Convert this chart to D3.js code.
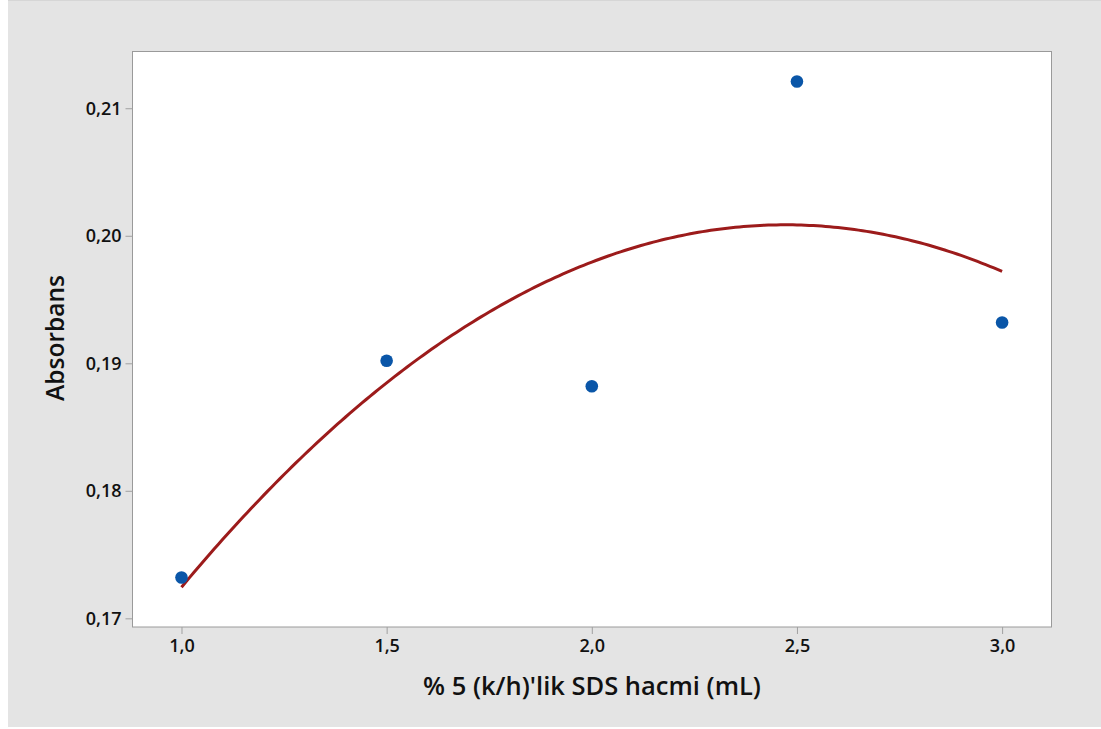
<!DOCTYPE html>
<html><head><meta charset="utf-8">
<script src="https://cdn.jsdelivr.net/npm/d3@7"></script>
<style>body{margin:0;background:#fff;}svg{display:block;}</style>
</head><body>
<svg id="c" width="1101" height="729"></svg>
<script>
const xValues = [1.0, 1.5, 2.0, 2.5, 3.0];
const yValues = [0.1732, 0.1902, 0.1882, 0.2121, 0.1932];
const xTicks = [1.0, 1.5, 2.0, 2.5, 3.0];
const yTicks = [0.17, 0.18, 0.19, 0.20, 0.21];
const xTitle = "% 5 (k/h)'lik SDS hacmi (mL)";
const yTitle = "Absorbans";

// quadratic least-squares fit of the data (fitted line plot)
function quadFit(xs, ys) {
  const n = xs.length;
  let S = [0,0,0,0,0], T = [0,0,0];
  for (let i = 0; i < n; i++) {
    for (let k = 0; k < 5; k++) S[k] += Math.pow(xs[i], k);
    for (let k = 0; k < 3; k++) T[k] += ys[i] * Math.pow(xs[i], k);
  }
  const A = [[S[0],S[1],S[2],T[0]],[S[1],S[2],S[3],T[1]],[S[2],S[3],S[4],T[2]]];
  for (let i = 0; i < 3; i++) {
    for (let j = i+1; j < 3; j++) {
      const f = A[j][i]/A[i][i];
      for (let k = i; k < 4; k++) A[j][k] -= f*A[i][k];
    }
  }
  const c = [0,0,0];
  for (let i = 2; i >= 0; i--) {
    let s = A[i][3];
    for (let k = i+1; k < 3; k++) s -= A[i][k]*c[k];
    c[i] = s/A[i][i];
  }
  return x => c[0] + c[1]*x + c[2]*x*x;
}
const fit = quadFit(xValues, yValues);

const svg = d3.select("#c");
const L = 132.5, R = 1051.5, T = 51.5, B = 627;
const FONT = "'Open Sans', 'Noto Sans', sans-serif";
svg.append("rect").attr("x",8).attr("y",0).attr("width",1093).attr("height",727).attr("fill","#e4e4e4");
svg.append("line").attr("x1",8).attr("x2",1101).attr("y1",0.5).attr("y2",0.5).attr("stroke","#d6d6d6");

const x = d3.scaleLinear().domain([0.8806, 3.1204]).range([L, R]);
const y = d3.scaleLinear().domain([0.16932, 0.21445]).range([B, T]);

svg.append("rect").attr("x",L).attr("y",T).attr("width",R-L).attr("height",B-T)
  .attr("fill","#fff").attr("stroke","#9a9a9a").attr("stroke-width",1);

const fmt = d => d3.format(".2f")(d).replace(".", ",");
const fmtx = d => d3.format(".1f")(d).replace(".", ",");

const yAxis = svg.append("g").attr("transform",`translate(${L},0)`)
  .call(d3.axisLeft(y).tickValues(yTicks).tickFormat(fmt).tickSize(7).tickPadding(4));
const xAxis = svg.append("g").attr("transform",`translate(0,${B})`)
  .call(d3.axisBottom(x).tickValues(xTicks).tickFormat(fmtx).tickSize(7).tickPadding(5));
[yAxis, xAxis].forEach(a => {
  a.select(".domain").remove();
  a.selectAll(".tick line").attr("stroke","#a0a0a0");
  a.selectAll(".tick text").attr("fill","#111").style("font-family",FONT)
    .style("font-size","18px").style("font-weight","600");
});

// fitted curve
const xs = d3.range(0, 201).map(i => 1 + i*0.01);
svg.append("path").datum(xs)
  .attr("d", d3.line().x(d => x(d)).y(d => y(fit(d))))
  .attr("fill","none").attr("stroke","#9c1b1b").attr("stroke-width",3);

svg.selectAll("circle.pt").data(xValues).enter().append("circle")
  .attr("cx", d => x(d)).attr("cy", (d,i) => y(yValues[i])).attr("r",6.3)
  .attr("fill","#0a56a8");

svg.append("text").attr("x",592).attr("y",695).attr("text-anchor","middle")
  .style("font-family",FONT).style("font-size","25.5px").style("font-weight","600")
  .attr("fill","#111").text(xTitle);
svg.append("text").attr("transform","translate(64,338) rotate(-90)").attr("text-anchor","middle")
  .style("font-family",FONT).style("font-size","24.5px").style("font-weight","600")
  .attr("fill","#111").text(yTitle);
</script>
</body></html>
